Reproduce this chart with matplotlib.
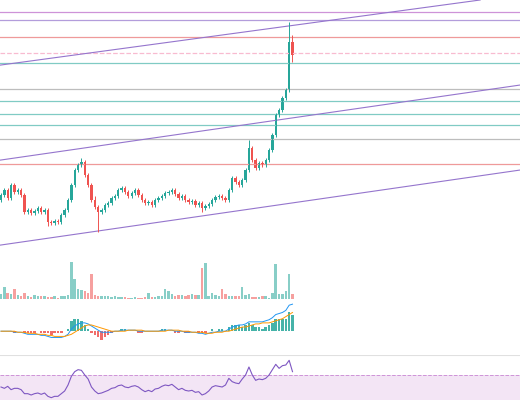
import matplotlib
matplotlib.use("Agg")
import matplotlib.pyplot as plt
import numpy as np

# 蜡烛收盘价（开盘价取前一根收盘价）
closes = [105, 110, 102, 115, 108, 110, 105, 88, 90, 87, 89, 92, 88, 90, 78, 77, 79, 78, 85, 90,
          100, 115, 130, 135, 138, 125, 115, 100, 93, 88, 90, 95, 97, 102, 104, 110, 112, 108, 104, 107,
          110, 105, 100, 97, 98, 95, 100, 102, 104, 107, 108, 110, 106, 102, 104, 100, 98, 99, 95, 97,
          92, 94, 96, 100, 103, 104, 102, 100, 110, 122, 118, 115, 120, 130, 152, 140, 132, 137, 135, 140,
          150, 165, 185, 190, 202, 210, 258, 245]
first_open = 100
# 明显的影线
wick_high = {24: 142, 28: 104, 74: 160, 86: 278, 87: 265}
wick_low = {29: 68, 14: 74, 60: 88, 87: 238}

volumes = [5, 12, 6, 5, 10, 4, 3, 6, 3, 2, 4, 3, 3, 3, 2, 2, 3, 1, 3, 3,
           4, 36, 20, 10, 9, 8, 6, 24, 4, 3, 3, 3, 3, 2, 3, 2, 2, 2, 1, 1,
           2, 1, 1, 2, 6, 2, 2, 3, 3, 10, 8, 5, 3, 4, 4, 3, 4, 5, 4, 4,
           30, 35, 3, 6, 4, 3, 10, 5, 3, 3, 3, 3, 12, 4, 5, 2, 2, 2, 3, 3,
           1, 6, 34, 5, 5, 8, 24, 5]

macd = [0, 0, 0, 0, -1, -1, -1, -2, -3, -3, -3, -3, -4, -4, -5, -6, -6, -6, -6, -5,
        -3, 2, 5, 7, 8, 8, 7, 5, 3, 1, -1, -1, -1, -1, 0, 0, 1, 1, 1, 1,
        1, 0, 0, 0, 0, 0, 0, 0, 1, 1, 1, 1, 0, 0, 0, -1, -1, -1, -1, -2,
        -2, -3, -2, -1, -1, 0, 0, 0, 2, 4, 5, 6, 6, 7, 9, 9, 9, 9, 9, 10,
        11, 13, 16, 17, 18, 20, 25, 26]
signal = [0, 0, 0, 0, 0, -1, -1, -1, -2, -2, -2, -3, -3, -3, -4, -4, -5, -5, -5, -5,
          -4, -3, -1, 1, 3, 5, 6, 6, 5, 4, 3, 2, 1, 0, 0, 0, 0, 0, 1, 1,
          1, 1, 1, 0, 0, 0, 0, 0, 0, 0, 1, 1, 1, 1, 0, 0, 0, -1, -1, -1,
          -1, -2, -2, -2, -1, -1, -1, 0, 0, 1, 2, 3, 4, 4, 5, 6, 7, 7, 8, 8,
          8, 9, 10, 11, 12, 14, 16, 18]

rsi = [52, 50, 53, 48, 50, 50, 48, 42, 42, 40, 42, 43, 41, 43, 38, 36, 38, 38, 42, 46,
       55, 68, 75, 78, 77, 70, 64, 52, 46, 42, 43, 45, 47, 50, 51, 54, 55, 52, 51, 53,
       54, 52, 48, 45, 47, 45, 49, 50, 53, 55, 54, 56, 52, 48, 50, 47, 46, 47, 44, 45,
       40, 42, 46, 52, 54, 53, 52, 55, 65, 60, 58, 57, 64, 70, 82, 70, 62, 64, 63, 65,
       70, 78, 86, 80, 84, 85, 92, 75]

# 水平价位线 (价格, 颜色, 线型)
levels = [(288, "#ce93d8", "-"), (280, "#b39ddb", "-"), (263, "#ef9a9a", "-"),
          (247, "#f8bbd0", "--"), (237, "#80cbc4", "-"), (211, "#bdbdbd", "-"),
          (199, "#80cbc4", "-"), (186, "#80cbc4", "-"), (175, "#80cbc4", "-"),
          (161, "#bdbdbd", "-"), (136, "#ef9a9a", "-")]
# 趋势线 (起点 x, 价格, 终点 x, 价格)
trends = [(0, 235, 143, 300), (0, 140, 155, 215), (0, 55, 155, 130)]

UP, DOWN = "#26a69a", "#ef5350"
W, H = 520, 400
fig = plt.figure(figsize=(5.2, 4.0), dpi=100)


def add_ax(top, bottom):
    ax = fig.add_axes([0, 1 - bottom / H, 1, (bottom - top) / H])
    ax.axis("off")
    ax.set_xlim(-0.3, 154.9)
    return ax


n = len(closes)
x = np.arange(n)
opens = [first_open] + closes[:-1]
colors = [UP if c >= o else DOWN for o, c in zip(opens, closes)]

# 主图
ax = add_ax(0, 258)
ax.set_ylim(42, 300)
for lv, col, ls in levels:
    ax.axhline(lv, color=col, lw=0.9, ls=ls)
for x0, y0, x1, y1 in trends:
    ax.axline((x0, y0), (x1, y1), color="#9575cd", lw=0.8)
for i in range(n):
    o, c = opens[i], closes[i]
    hi = wick_high.get(i, max(o, c) + 2)
    lo = wick_low.get(i, min(o, c) - 2)
    ax.vlines(i, lo, hi, color=colors[i], lw=0.7)
    ax.bar(i, max(abs(c - o), 0.8), bottom=min(o, c), width=0.7, color=colors[i])

# 成交量
axv = add_ax(258, 299)
axv.set_ylim(0, 40)
axv.bar(x, volumes, width=0.75, color=colors, alpha=0.55)

# MACD
axm = add_ax(300, 352)
axm.set_ylim(-20, 30)
hist = np.array(macd) - np.array(signal)
axm.bar(x, hist * 2, width=0.75, color=[UP if h >= 0 else DOWN for h in hist], alpha=0.85)
axm.plot(x, macd, color="#2196f3", lw=0.7)
axm.plot(x, signal, color="#ff9800", lw=0.7)

# RSI
axr = add_ax(355, 400)
axr.set_ylim(32.5, 100)
axr.axhspan(30, 70, color="#f3e5f5", lw=0)
axr.axhline(70, color="#ce93d8", lw=0.7, ls="--")
axr.axhline(99.5, color="#e0e0e0", lw=0.8)
axr.plot(x, rsi, color="#7e57c2", lw=0.8)

fig.savefig("out.png", dpi=100, facecolor="white")
